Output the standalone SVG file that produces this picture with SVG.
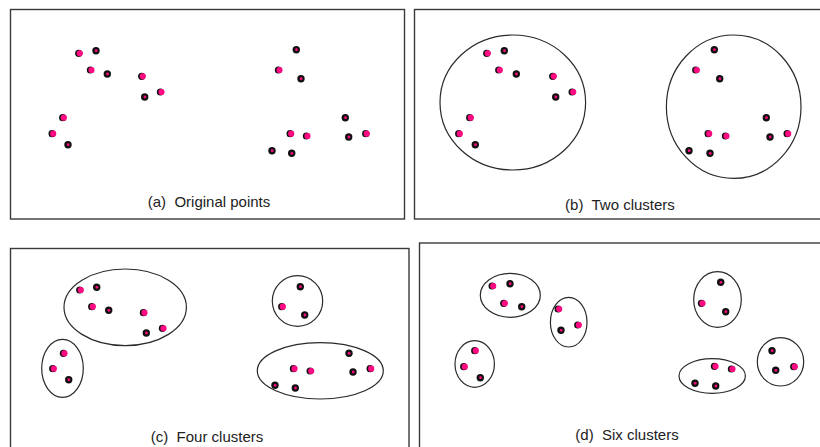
<svg xmlns="http://www.w3.org/2000/svg" xmlns:xlink="http://www.w3.org/1999/xlink" width="820" height="447" viewBox="0 0 820 447">
  <style>
    .frame { fill: none; stroke: #3a3a3a; stroke-width: 1.4; }
    .clu { fill: none; stroke: #2a2a2a; stroke-width: 1.2; }
    .cap { font-family: "Liberation Sans", Arial, sans-serif; font-size: 15px; fill: #222; text-anchor: middle; }
  </style>
  <defs>
    <!-- pink point with a dark rim on its left -->
    <g id="pk">
      <circle cx="-0.6" cy="0" r="3.6" fill="#111"/>
      <circle cx="0.5" cy="0" r="3.1" fill="#ff0a82"/>
    </g>
    <!-- dark point with a pink core -->
    <g id="bk">
      <circle cx="0" cy="0" r="3.7" fill="#111"/>
      <circle cx="0.2" cy="0" r="1.4" fill="#ff0a82"/>
    </g>
  </defs>
  <rect width="820" height="447" fill="#fff"/>

  <!-- (a) original points -->
  <g id="panel-a">
    <rect class="frame" x="10.5" y="9.5" width="394" height="209.5"/>
    <use xlink:href="#pk" x="79.3" y="53.3"/>
    <use xlink:href="#bk" x="96" y="50.7"/>
    <use xlink:href="#pk" x="91" y="70"/>
    <use xlink:href="#bk" x="107.3" y="74"/>
    <use xlink:href="#pk" x="142.3" y="76.3"/>
    <use xlink:href="#bk" x="144.7" y="97"/>
    <use xlink:href="#pk" x="161" y="92"/>
    <use xlink:href="#pk" x="63.3" y="117.7"/>
    <use xlink:href="#pk" x="52.7" y="133.7"/>
    <use xlink:href="#bk" x="68" y="144.7"/>
    <use xlink:href="#bk" x="296.3" y="49.7"/>
    <use xlink:href="#pk" x="279" y="70"/>
    <use xlink:href="#bk" x="301" y="78.7"/>
    <use xlink:href="#bk" x="345.3" y="117.7"/>
    <use xlink:href="#pk" x="290.7" y="133.7"/>
    <use xlink:href="#pk" x="307" y="136"/>
    <use xlink:href="#bk" x="348.7" y="137"/>
    <use xlink:href="#pk" x="366.3" y="133.7"/>
    <use xlink:href="#bk" x="272" y="150.7"/>
    <use xlink:href="#bk" x="291.7" y="153.3"/>
    <text class="cap" x="209" y="206.5" xml:space="preserve">(a)  Original points</text>
  </g>

  <!-- (b) two clusters -->
  <g id="panel-b">
    <rect class="frame" x="414.5" y="9.5" width="410" height="209.5"/>
    <ellipse class="clu" cx="512.8" cy="102.5" rx="72.8" ry="67.5"/>
    <ellipse class="clu" cx="733.7" cy="106.7" rx="67.3" ry="71.7"/>
    <use xlink:href="#pk" x="487.3" y="53.3"/>
    <use xlink:href="#bk" x="504.3" y="50.7"/>
    <use xlink:href="#pk" x="499.3" y="70"/>
    <use xlink:href="#bk" x="516.3" y="74"/>
    <use xlink:href="#pk" x="553.3" y="76.3"/>
    <use xlink:href="#bk" x="555.7" y="97"/>
    <use xlink:href="#pk" x="572.7" y="92"/>
    <use xlink:href="#pk" x="470.3" y="117.7"/>
    <use xlink:href="#pk" x="459.3" y="133.7"/>
    <use xlink:href="#bk" x="475.3" y="144.7"/>
    <use xlink:href="#bk" x="714.3" y="49.7"/>
    <use xlink:href="#pk" x="696.3" y="70"/>
    <use xlink:href="#bk" x="719.7" y="78.7"/>
    <use xlink:href="#bk" x="766.3" y="117.7"/>
    <use xlink:href="#pk" x="708.7" y="133.7"/>
    <use xlink:href="#pk" x="726" y="136"/>
    <use xlink:href="#bk" x="770" y="137"/>
    <use xlink:href="#pk" x="787.7" y="133.7"/>
    <use xlink:href="#bk" x="689" y="150.7"/>
    <use xlink:href="#bk" x="710" y="153.3"/>
    <text class="cap" x="620" y="209.5" xml:space="preserve">(b)  Two clusters</text>
  </g>

  <!-- (c) four clusters -->
  <g id="panel-c">
    <rect class="frame" x="10.5" y="248.5" width="398.5" height="210"/>
    <ellipse class="clu" cx="125.2" cy="307.3" rx="61.2" ry="38.3"/>
    <ellipse class="clu" cx="62.5" cy="368.3" rx="20.8" ry="29"/>
    <ellipse class="clu" cx="297.5" cy="301" rx="25.2" ry="25.3"/>
    <ellipse class="clu" cx="320.3" cy="370.8" rx="63" ry="28.2"/>
    <use xlink:href="#pk" x="80.3" y="290"/>
    <use xlink:href="#bk" x="96.7" y="287.3"/>
    <use xlink:href="#pk" x="92.3" y="306.7"/>
    <use xlink:href="#bk" x="108.7" y="310.3"/>
    <use xlink:href="#pk" x="144" y="312.7"/>
    <use xlink:href="#bk" x="146.3" y="333"/>
    <use xlink:href="#pk" x="163" y="328.3"/>
    <use xlink:href="#pk" x="64" y="353.3"/>
    <use xlink:href="#pk" x="53.3" y="368.7"/>
    <use xlink:href="#bk" x="68.7" y="379.7"/>
    <use xlink:href="#bk" x="300.3" y="286.7"/>
    <use xlink:href="#pk" x="282.3" y="306.7"/>
    <use xlink:href="#bk" x="304.7" y="315"/>
    <use xlink:href="#bk" x="349" y="353.3"/>
    <use xlink:href="#pk" x="294" y="368.7"/>
    <use xlink:href="#pk" x="310.7" y="371"/>
    <use xlink:href="#bk" x="353" y="372"/>
    <use xlink:href="#pk" x="370.7" y="368.7"/>
    <use xlink:href="#bk" x="275" y="385.3"/>
    <use xlink:href="#bk" x="295.3" y="388"/>
    <text class="cap" x="207" y="441.5" xml:space="preserve">(c)  Four clusters</text>
  </g>

  <!-- (d) six clusters -->
  <g id="panel-d">
    <rect class="frame" x="419.5" y="243" width="410" height="215"/>
    <ellipse class="clu" cx="510.3" cy="295.3" rx="30" ry="22"/>
    <ellipse class="clu" cx="568.7" cy="322.2" rx="18.3" ry="24.8"/>
    <ellipse class="clu" cx="474.7" cy="364" rx="19.7" ry="23.3"/>
    <ellipse class="clu" cx="717.5" cy="299.5" rx="23.8" ry="27.8"/>
    <ellipse class="clu" cx="712.2" cy="376" rx="33.2" ry="17.3"/>
    <ellipse class="clu" cx="780.5" cy="361.8" rx="23.2" ry="24.2"/>
    <use xlink:href="#pk" x="492.7" y="286"/>
    <use xlink:href="#bk" x="510" y="283.7"/>
    <use xlink:href="#pk" x="504.3" y="303.3"/>
    <use xlink:href="#bk" x="521.7" y="306.7"/>
    <use xlink:href="#pk" x="558.7" y="309"/>
    <use xlink:href="#bk" x="561" y="330.3"/>
    <use xlink:href="#pk" x="578.3" y="325"/>
    <use xlink:href="#pk" x="475.3" y="350.7"/>
    <use xlink:href="#pk" x="464.3" y="366.7"/>
    <use xlink:href="#bk" x="480.3" y="377.7"/>
    <use xlink:href="#bk" x="720.7" y="282.3"/>
    <use xlink:href="#pk" x="702" y="303.3"/>
    <use xlink:href="#bk" x="725.7" y="311.7"/>
    <use xlink:href="#bk" x="772" y="350.7"/>
    <use xlink:href="#pk" x="715" y="366.3"/>
    <use xlink:href="#pk" x="732" y="369"/>
    <use xlink:href="#bk" x="775.7" y="370.3"/>
    <use xlink:href="#pk" x="794.3" y="366.7"/>
    <use xlink:href="#bk" x="695" y="383.3"/>
    <use xlink:href="#bk" x="715.7" y="386"/>
    <text class="cap" x="627" y="440" xml:space="preserve">(d)  Six clusters</text>
  </g>
</svg>
